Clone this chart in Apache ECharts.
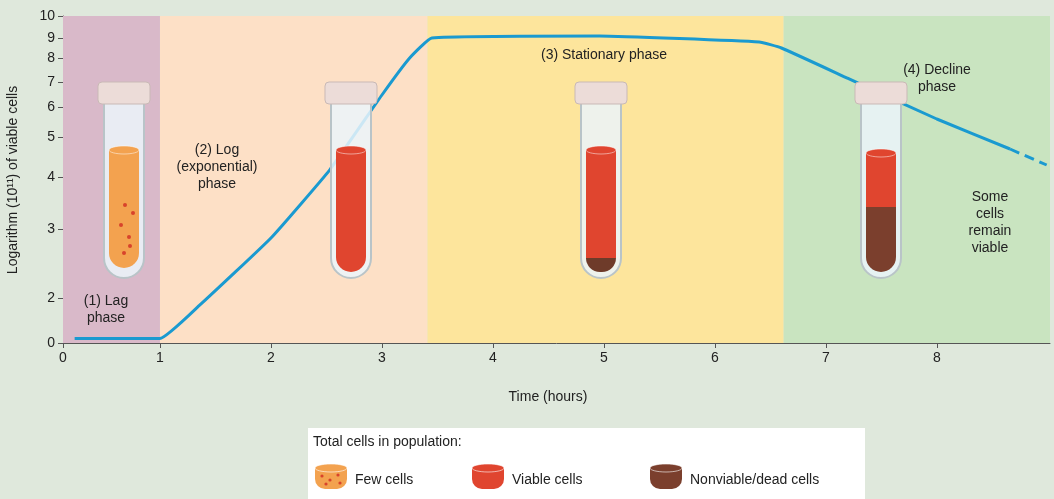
<!DOCTYPE html>
<html>
<head>
<meta charset="utf-8">
<script src="https://cdn.jsdelivr.net/npm/echarts@6/dist/echarts.min.js"></script>
<style>html,body{margin:0;padding:0;background:#dfe8dc;}#main{width:1054px;height:499px;}</style>
</head>
<body>
<div id="main"></div>
<script>
// data
var hours = [0.12, 1.0, 1.36, 2.0, 2.53, 3.0, 3.25, 3.45, 4.96, 6.4, 6.6, 7.2, 8.0, 8.66];
var logCells = [0.2, 0.2, 1.69, 2.87, 4.18, 6.48, 8.0, 9.0, 9.09, 8.8, 8.5, 7.15, 5.6, 4.7];
var dashHours = [8.66, 8.99];
var dashCells = [4.7, 4.3];
var yTicks = [0, 2, 3, 4, 5, 6, 7, 8, 9, 10];
var xTicks = [0, 1, 2, 3, 4, 5, 6, 7, 8];
var phaseBounds = [0, 1, 3.41, 6.62, 9.02];
var phaseColors = ['#d9b9c9', '#fde0c6', '#fde59c', '#c9e4c0'];

// axis scales as drawn in the figure (non-uniform spacing)
var yTickPos = [0, 45, 114, 166, 206, 236, 261, 285, 305, 327];
function ty(v) {
  for (var i = 0; i < yTicks.length - 1; i++) {
    if (v <= yTicks[i + 1]) return yTickPos[i] + (v - yTicks[i]) / (yTicks[i + 1] - yTicks[i]) * (yTickPos[i + 1] - yTickPos[i]);
  }
  return yTickPos[yTickPos.length - 1];
}
function tx(h) { return h < 1 ? 97 * h : 97 + 111 * (h - 1); }

var chart = echarts.init(document.getElementById('main'));
var line = hours.map(function (h, i) { return [tx(h), ty(logCells[i])]; });
var dash = dashHours.map(function (h, i) { return [tx(h), ty(dashCells[i])]; });
var areas = [];
for (var i = 0; i < phaseColors.length; i++) {
  areas.push([{ xAxis: tx(phaseBounds[i]), itemStyle: { color: phaseColors[i] } }, { xAxis: tx(phaseBounds[i + 1]) }]);
}

function tube(x, fillTop, parts) {
  var els = [];
  els.push({ type: 'rect', shape: { x: x + 6, y: 100, width: 40, height: 178, r: [0, 0, 20, 20] }, style: { fill: 'rgba(235,245,250,0.85)', stroke: '#b9c4c8', lineWidth: 2 } });
  parts.forEach(function (p) {
    els.push({ type: 'rect', shape: { x: x + 11, y: p[0], width: 30, height: p[1] - p[0], r: p[3] ? [0, 0, 15, 15] : 0 }, style: { fill: p[2] } });
  });
  els.push({ type: 'ellipse', shape: { cx: x + 26, cy: fillTop, rx: 15, ry: 4 }, style: { fill: parts[0][2], stroke: 'rgba(255,255,255,0.5)' } });
  els.push({ type: 'rect', shape: { x: x, y: 82, width: 52, height: 22, r: 4 }, style: { fill: '#ecdcd8', stroke: '#c9b9b6' } });
  return els;
}
var g = [];
g = g.concat(tube(98, 150, [[150, 268, '#f3a24f', true]]));
[[125, 205], [133, 213], [121, 225], [129, 237], [124, 253], [130, 246]].forEach(function (d) {
  g.push({ type: 'circle', shape: { cx: d[0], cy: d[1], r: 2 }, style: { fill: '#d8432b' } });
});
g = g.concat(tube(325, 150, [[150, 272, '#e0452f', true]]));
g = g.concat(tube(575, 150, [[150, 258, '#e0452f'], [258, 272, '#6e3b2a', true]]));
g = g.concat(tube(855, 153, [[153, 207, '#e0452f'], [207, 272, '#7b3f2d', true]]));

var txt = function (x, y, t, align) {
  return { type: 'text', x: x, y: y, style: { text: t, fill: '#222', font: '14px "Liberation Sans", Arial', align: align || 'center', lineHeight: 17 } };
};
g.push(txt(106, 293, '(1) Lag\nphase'));
g.push(txt(217, 142, '(2) Log\n(exponential)\nphase'));
g.push(txt(604, 47, '(3) Stationary phase'));
g.push(txt(937, 62, '(4) Decline\nphase'));
g.push(txt(990, 189, 'Some\ncells\nremain\nviable'));
g.push({ type: 'text', x: 548, y: 390, style: { text: 'Time (hours)', fill: '#222', font: '14px "Liberation Sans", Arial', align: 'center' } });
g.push({ type: 'text', x: 13, y: 180, rotation: Math.PI / 2, style: { text: 'Logarithm (10¹¹) of viable cells', fill: '#222', font: '14px "Liberation Sans", Arial', align: 'center', verticalAlign: 'middle' } });
// legend box
g.push({ type: 'rect', shape: { x: 308, y: 428, width: 557, height: 71 }, style: { fill: '#fff' } });
g.push(txt(313, 434, 'Total cells in population:', 'left'));
[[315, '#f3a24f', 'Few cells'], [472, '#e0452f', 'Viable cells'], [650, '#7b3f2d', 'Nonviable/dead cells']].forEach(function (l) {
  g.push({ type: 'rect', shape: { x: l[0], y: 467, width: 32, height: 22, r: [3, 3, 10, 10] }, style: { fill: l[1] } });
  g.push({ type: 'ellipse', shape: { cx: l[0] + 16, cy: 468, rx: 16, ry: 4 }, style: { fill: l[1], stroke: 'rgba(255,255,255,0.6)' } });
  g.push(txt(l[0] + 40, 472, l[2], 'left'));
});
[[322, 476], [330, 480], [338, 475], [326, 484], [340, 483]].forEach(function (d) {
  g.push({ type: 'circle', shape: { cx: d[0], cy: d[1], r: 1.6 }, style: { fill: '#d8432b' } });
});
g.forEach(function (e) { e.z = 100; });

chart.setOption({
  backgroundColor: '#dfe8dc',
  animation: false,
  grid: { left: 63, right: 4, top: 16, bottom: 156 },
  xAxis: {
    type: 'value', min: 0, max: tx(phaseBounds[4]),
    axisLine: { lineStyle: { color: '#555' } },
    splitLine: { show: false },
    axisTick: { customValues: xTicks.map(tx), lineStyle: { color: '#555' } },
    axisLabel: { customValues: xTicks.map(tx), color: '#222', fontSize: 14, fontFamily: 'Liberation Sans',
      formatter: function (v) { for (var i = 0; i < xTicks.length; i++) if (Math.abs(tx(xTicks[i]) - v) < 0.5) return xTicks[i]; return ''; } }
  },
  yAxis: {
    type: 'value', min: 0, max: ty(10),
    axisLine: { show: true, lineStyle: { color: '#555' } },
    splitLine: { show: false },
    axisTick: { show: true, customValues: yTicks.map(ty), lineStyle: { color: '#555' } },
    axisLabel: { customValues: yTicks.map(ty), color: '#222', fontSize: 14, fontFamily: 'Liberation Sans',
      formatter: function (v) { for (var i = 0; i < yTicks.length; i++) if (Math.abs(ty(yTicks[i]) - v) < 0.5) return yTicks[i]; return ''; } }
  },
  series: [
    { type: 'line', data: line, showSymbol: false, smooth: 0.12, z: 5, lineStyle: { color: '#1a9ad0', width: 3 },
      markArea: { silent: true, data: areas } },
    { type: 'line', data: dash, showSymbol: false, z: 5, lineStyle: { color: '#1a9ad0', width: 3, type: [10, 6] } }
  ],
  graphic: g
});
</script>
</body>
</html>
